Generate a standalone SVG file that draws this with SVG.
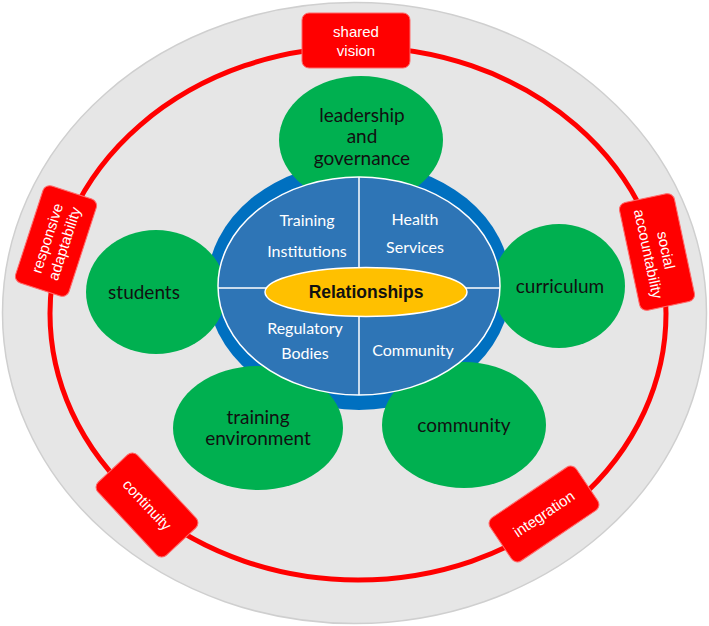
<svg xmlns="http://www.w3.org/2000/svg" width="709" height="626" viewBox="0 0 709 626">
<style>
.redbox{fill:#ff0000;stroke:#ff6a6a;stroke-width:1}
.rt{font-family:"Liberation Sans",Arial,sans-serif;font-size:15px;fill:#ffffff;text-anchor:middle}
.green{fill:#00b050}
.gt{font-family:Lato,"Open Sans",sans-serif;font-size:19px;fill:#111111;text-anchor:middle}
.qt{font-family:Lato,"Open Sans",sans-serif;font-size:16px;fill:#ffffff;text-anchor:middle}
</style>
<rect width="709" height="626" fill="#ffffff"/>
<ellipse cx="354.5" cy="313" rx="352" ry="310.5" fill="#e6e6e6" stroke="#cfcfcf" stroke-width="1.5"/>
<g id="connectors">
<ellipse cx="358" cy="313.5" rx="308" ry="266.5" fill="none" stroke="#ff0000" stroke-width="5"/>
</g>
<g id="shared-vision">
<rect class="redbox" x="302" y="13" width="108" height="55" rx="7"/>
<text class="rt" x="356" y="37">shared</text>
<text class="rt" x="356" y="56">vision</text>
</g>
<g id="responsive-adaptability" transform="translate(56,241) rotate(-72)">
<rect class="redbox" x="-51" y="-28" width="102" height="56" rx="7"/>
<text class="rt" y="-4">responsive</text>
<text class="rt" y="14">adaptability</text>
</g>
<g id="social-accountability" transform="translate(657,252) rotate(78)">
<rect class="redbox" x="-55" y="-28" width="110" height="56" rx="7"/>
<text class="rt" y="-4">social</text>
<text class="rt" y="14">accountability</text>
</g>
<g id="continuity" transform="translate(147,505) rotate(47)">
<rect class="redbox" x="-50" y="-27" width="100" height="54" rx="7"/>
<text class="rt" y="5">continuity</text>
</g>
<g id="integration" transform="translate(544,514) rotate(-34)">
<rect class="redbox" x="-52" y="-26" width="104" height="52" rx="7"/>
<text class="rt" y="5">integration</text>
</g>
<g id="blue-ring">
<ellipse cx="359" cy="286" rx="152" ry="124" fill="#0070c0"/>
</g>
<g id="leadership">
<ellipse class="green" cx="361" cy="140" rx="82" ry="64"/>
<text class="gt" x="362" y="122">leadership</text>
<text class="gt" x="362" y="143">and</text>
<text class="gt" x="362" y="165">governance</text>
</g>
<g id="students">
<ellipse class="green" cx="156" cy="292" rx="70" ry="62"/>
<text class="gt" x="144" y="299">students</text>
</g>
<g id="curriculum">
<ellipse class="green" cx="559" cy="286" rx="66" ry="62"/>
<text class="gt" x="560" y="293">curriculum</text>
</g>
<g id="training-environment">
<ellipse class="green" cx="258" cy="428" rx="85" ry="62"/>
<text class="gt" x="258" y="424">training</text>
<text class="gt" x="258" y="445">environment</text>
</g>
<g id="community-outer">
<ellipse class="green" cx="464" cy="425" rx="82" ry="63"/>
<text class="gt" x="464" y="432">community</text>
</g>
<g id="core">
<ellipse cx="359" cy="286" rx="141" ry="109" fill="#2e75b6" stroke="#ffffff" stroke-width="1.5"/>
<line x1="359" y1="177" x2="359" y2="395" stroke="#ffffff" stroke-width="1.5"/>
<line x1="218" y1="288" x2="500" y2="288" stroke="#ffffff" stroke-width="1.5"/>
<text class="qt" x="307" y="226">Training</text>
<text class="qt" x="307" y="257">Institutions</text>
<text class="qt" x="415" y="225">Health</text>
<text class="qt" x="415" y="253">Services</text>
<text class="qt" x="305" y="334">Regulatory</text>
<text class="qt" x="305" y="359">Bodies</text>
<text class="qt" x="413" y="356">Community</text>
</g>
<g id="relationships">
<ellipse cx="366" cy="292" rx="101" ry="24.5" fill="#ffc000" stroke="#ffffff" stroke-width="1.5"/>
<text x="366" y="298" font-family="'Liberation Sans',Arial,sans-serif" font-size="17.5" font-weight="bold" fill="#111111" text-anchor="middle">Relationships</text>
</g>
</svg>
